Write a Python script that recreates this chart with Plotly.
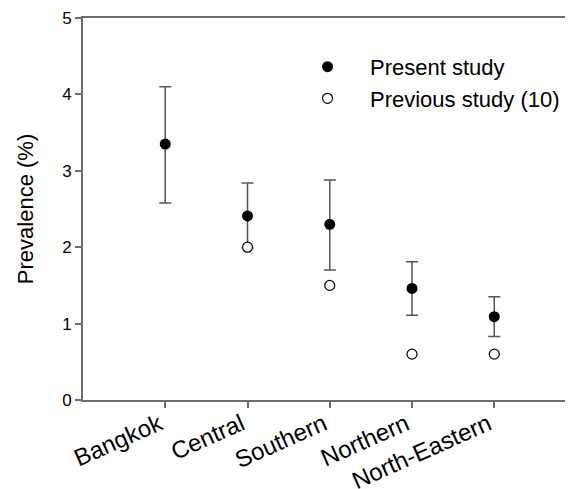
import plotly.graph_objects as go

regions = ["Bangkok", "Central", "Southern", "Northern", "North-Eastern"]
present = [3.35, 2.41, 2.30, 1.46, 1.09]
present_upper = [4.10, 2.84, 2.88, 1.81, 1.35]
present_lower = [2.58, 1.99, 1.70, 1.11, 0.83]
previous = [None, 2.0, 1.5, 0.6, 0.6]
yticks = [0, 1, 2, 3, 4, 5]

xpos = list(range(len(regions)))
err_plus = [u - v for u, v in zip(present_upper, present)]
err_minus = [v - l for v, l in zip(present, present_lower)]

FONT = "Liberation Sans, Arial, sans-serif"

fig = go.Figure()
fig.add_trace(go.Scatter(
    x=xpos, y=present, mode="markers", name="Present study",
    marker=dict(color="black", size=11, symbol="circle"),
    error_y=dict(type="data", symmetric=False, array=err_plus, arrayminus=err_minus,
                 color="#555555", thickness=1.5, width=6),
))
fig.add_trace(go.Scatter(
    x=xpos, y=previous, mode="markers", name="Previous study (10)",
    marker=dict(color="white", size=10, symbol="circle", line=dict(color="black", width=1.2)),
))

fig.update_layout(
    width=571, height=489,
    margin=dict(l=83, r=6, t=18, b=89),
    paper_bgcolor="white", plot_bgcolor="white",
    font=dict(family=FONT, color="black"),
    showlegend=True,
    legend=dict(x=1.0, y=0.927, xanchor="right", yanchor="top",
                font=dict(size=22, family=FONT), bgcolor="rgba(0,0,0,0)",
                itemwidth=75, tracegroupgap=0, borderwidth=0),
    xaxis=dict(
        range=[-1.0, 4.86], tickmode="array", tickvals=xpos, ticktext=regions,
        tickangle=-24, tickfont=dict(size=24, family=FONT), automargin=False,
        ticklabelstandoff=-7, ticklabelshift=-6,
        showline=True, linecolor="#6e6e6e", linewidth=2, mirror=True,
        ticks="outside", ticklen=6, tickcolor="#6e6e6e", tickwidth=1.5,
        showgrid=False, zeroline=False,
    ),
    yaxis=dict(
        range=[0, 5], tickmode="array", tickvals=yticks, automargin=False,
        tickfont=dict(size=17, family=FONT),
        title=dict(text="Prevalence (%)", font=dict(size=22, family=FONT), standoff=22),
        showline=True, linecolor="#6e6e6e", linewidth=2,
        ticks="outside", ticklen=6, tickcolor="#6e6e6e", tickwidth=1.5,
        showgrid=False, zeroline=False,
    ),
)

fig.write_html("out.html", config={"displayModeBar": False},
               post_script="document.body.style.margin='0';")
